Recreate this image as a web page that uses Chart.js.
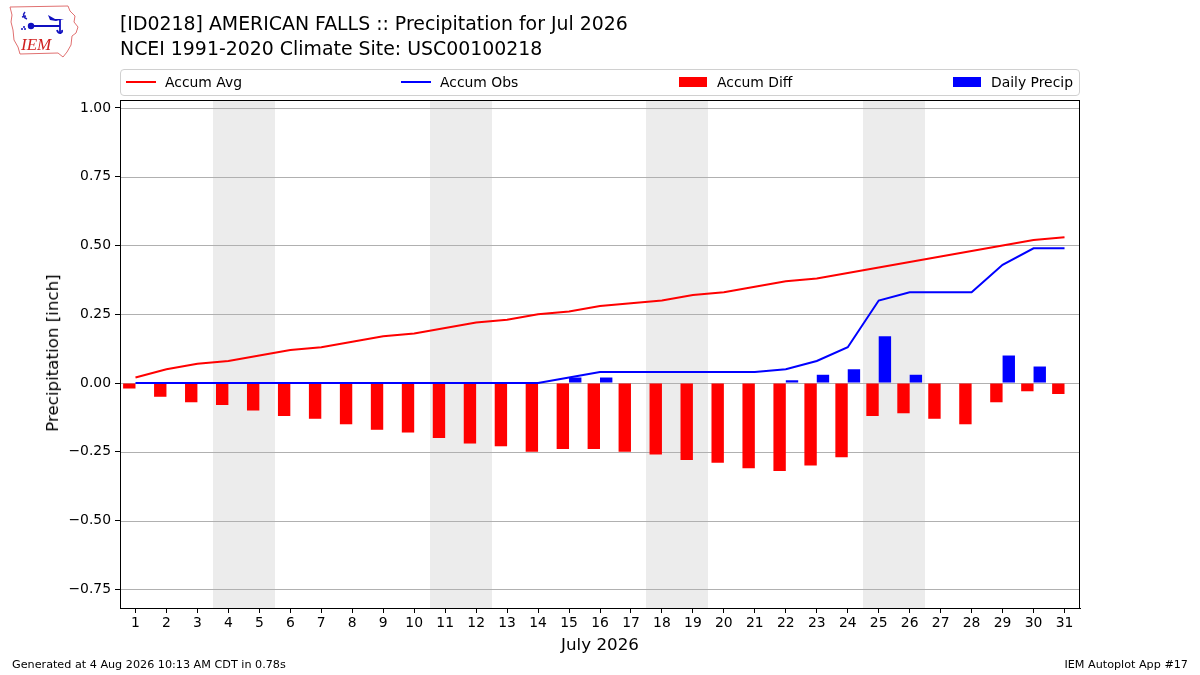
<!DOCTYPE html>
<html>
<head>
<meta charset="utf-8">
<script src="https://cdn.jsdelivr.net/npm/chart.js@4.4.1/dist/chart.umd.min.js"></script>
<style>
    html, body { margin: 0; padding: 0; background: #fff; }
    body { width: 1200px; height: 675px; position: relative; overflow: hidden; font-family: "DejaVu Sans", sans-serif; color: #000; }
    #chart { position: absolute; left: 0; top: 0; }
    .t { position: absolute; white-space: nowrap; }
    #legend { position: absolute; left: 120px; top: 69px; width: 958px; height: 25px; border: 1px solid #d0d0d0; border-radius: 4px; font-size: 13.9px; }
    .li { position: absolute; top: 0; height: 25px; line-height: 25px; }
    .sw-line { position: absolute; top: 11px; width: 30px; height: 2px; }
    .sw-bar { position: absolute; top: 7px; width: 28px; height: 10px; }
</style>
</head>
<body>
<canvas id="chart" width="1200" height="675"></canvas>

<svg class="t" style="left:0;top:0" width="90" height="62" viewBox="0 0 90 62">
    <path d="M10 7 L68 6 L70 11 L75 16 L74 22 L78 27 L76 33 L72 36 L71 45 L67 52 L63 57 L58 53 L20 54 L18 47 L14 40 L13 30 L11 22 L12 15 Z" fill="none" stroke="#e07070" stroke-width="1"/>
    <path d="M25 12 C22 15 24 18 27 19 M22 17 L26 16" stroke="#2020c0" stroke-width="1.6" fill="none"/>
    <path d="M31 26 L60 26 M60 20 L60 34 M57 30 C58 34 63 34 62 30" stroke="#1010c0" stroke-width="1.8" fill="none"/>
    <path d="M48 15 L55 19 L64 19 L56 21 L50 20 Z" fill="#1010c0"/>
    <circle cx="31" cy="26" r="3.2" fill="#1010c0"/>
    <circle cx="24" cy="27" r="1" fill="#1010c0"/>
    <circle cx="22" cy="29" r="1" fill="#1010c0"/>
    <circle cx="25" cy="29" r="1" fill="#1010c0"/>
    <text x="21" y="50" font-family="Liberation Serif, serif" font-style="italic" font-size="17" fill="#d02020">IEM</text>
</svg>

<div class="t" style="left:120px;top:12px;font-size:18.9px">[ID0218] AMERICAN FALLS :: Precipitation for Jul 2026</div>
<div class="t" style="left:120px;top:37px;font-size:18.9px">NCEI 1991-2020 Climate Site: USC00100218</div>

<div id="legend">
    <div class="li" style="left:5px"><span class="sw-line" style="background:#ff0000"></span><span style="margin-left:39px">Accum Avg</span></div>
    <div class="li" style="left:280px"><span class="sw-line" style="background:#0000ff"></span><span style="margin-left:39px">Accum Obs</span></div>
    <div class="li" style="left:558px"><span class="sw-bar" style="background:#ff0000"></span><span style="margin-left:38px">Accum Diff</span></div>
    <div class="li" style="left:832px"><span class="sw-bar" style="background:#0000ff"></span><span style="margin-left:38px">Daily Precip</span></div>
</div>

<div class="t" style="left:52px;top:353px;font-size:16.7px;transform:translate(-50%,-50%) rotate(-90deg)">Precipitation [inch]</div>
<div class="t" style="left:600px;top:634px;font-size:16.7px;transform:translateX(-50%)">July 2026</div>
<div class="t" style="left:12px;top:658px;font-size:11.2px">Generated at 4 Aug 2026 10:13 AM CDT in 0.78s</div>
<div class="t" style="right:12px;top:658px;font-size:11.2px">IEM Autoplot App #17</div>

<script>
// days of July 2026
const days = Array.from({ length: 31 }, (_, i) => String(i + 1))

// accumulated climatology (inch)
const accumAvg = [0.02, 0.05, 0.07, 0.08, 0.10, 0.12, 0.13, 0.15, 0.17, 0.18,
                  0.20, 0.22, 0.23, 0.25, 0.26, 0.28, 0.29, 0.30, 0.32, 0.33,
                  0.35, 0.37, 0.38, 0.40, 0.42, 0.44, 0.46, 0.48, 0.50, 0.52, 0.53]

// accumulated observed (inch)
const accumObs = [0, 0, 0, 0, 0, 0, 0, 0, 0, 0,
                  0, 0, 0, 0, 0.02, 0.04, 0.04, 0.04, 0.04, 0.04,
                  0.04, 0.05, 0.08, 0.13, 0.30, 0.33, 0.33, 0.33, 0.43, 0.49, 0.49]

// obs minus avg
const accumDiff = [-0.02, -0.05, -0.07, -0.08, -0.10, -0.12, -0.13, -0.15, -0.17, -0.18,
                   -0.20, -0.22, -0.23, -0.25, -0.24, -0.24, -0.25, -0.26, -0.28, -0.29,
                   -0.31, -0.32, -0.30, -0.27, -0.12, -0.11, -0.13, -0.15, -0.07, -0.03, -0.04]

// daily precipitation (inch)
const dailyPrecip = [0, 0, 0, 0, 0, 0, 0, 0, 0, 0,
                     0, 0, 0, 0, 0.02, 0.02, 0, 0, 0, 0,
                     0, 0.01, 0.03, 0.05, 0.17, 0.03, 0, 0, 0.10, 0.06, 0]

// weekends (first, last day) shaded in the plot
const weekends = [[4, 5], [11, 12], [18, 19], [25, 26]]

const yTicks = [-0.75, -0.5, -0.25, 0, 0.25, 0.5, 0.75, 1.0]

const weekendShade = {
    id: "weekendShade",
    beforeDatasetsDraw(chart) {
        const { ctx, chartArea, scales } = chart
        const x = scales.x
        const half = (x.getPixelForValue(1) - x.getPixelForValue(0)) / 2
        ctx.save()
        ctx.fillStyle = "#ececec"
        weekends.forEach(([a, b]) => {
            const x0 = Math.round(x.getPixelForValue(a - 1) - half)
            const x1 = Math.round(x.getPixelForValue(b - 1) + half)
            ctx.fillRect(x0, chartArea.top, x1 - x0, chartArea.bottom - chartArea.top)
        })
        // horizontal grid goes over the shading
        ctx.strokeStyle = "#b0b0b0"
        ctx.lineWidth = 1
        yTicks.forEach(v => {
            const y = Math.round(scales.y.getPixelForValue(v)) + 0.5
            ctx.beginPath()
            ctx.moveTo(chartArea.left, y)
            ctx.lineTo(chartArea.right, y)
            ctx.stroke()
        })
        ctx.restore()
    },
    afterDraw(chart) {
        const { ctx, chartArea } = chart
        ctx.save()
        ctx.strokeStyle = "#000"
        ctx.lineWidth = 1
        ctx.strokeRect(chartArea.left + 0.5, chartArea.top + 0.5,
            chartArea.right - chartArea.left - 1, chartArea.bottom - chartArea.top)
        ctx.restore()
    },
}

new Chart(document.getElementById("chart"), {
    data: {
        labels: days,
        datasets: [
            {
                type: "line", label: "Accum Avg", data: accumAvg,
                borderColor: "#ff0000", borderWidth: 2, pointRadius: 0, tension: 0, order: 0,
            },
            {
                type: "line", label: "Accum Obs", data: accumObs,
                borderColor: "#0000ff", borderWidth: 2, pointRadius: 0, tension: 0, order: 0,
            },
            {
                type: "bar", label: "Accum Diff", data: accumDiff,
                backgroundColor: "#ff0000", borderWidth: 0, order: 1,
                categoryPercentage: 0.8, barPercentage: 1.0,
            },
            {
                type: "bar", label: "Daily Precip", data: dailyPrecip,
                backgroundColor: "#0000ff", borderWidth: 0, order: 1,
                categoryPercentage: 0.8, barPercentage: 1.0,
            },
        ],
    },
    options: {
        responsive: false,
        animation: false,
        devicePixelRatio: 1,
        layout: { padding: { top: 100, right: 120, left: 0, bottom: 0 } },
        plugins: {
            legend: { display: false },
            title: { display: false },
            tooltip: { enabled: false },
        },
        scales: {
            x: {
                type: "category",
                offset: true,
                grid: { drawOnChartArea: false, tickLength: 5, tickColor: "#000", offset: false },
                border: { color: "#000" },
                ticks: { color: "#000", font: { family: "DejaVu Sans", size: 13.9 }, padding: 2, maxRotation: 0, autoSkip: false },
                afterFit: (s) => { s.height = 67 },
            },
            y: {
                type: "linear",
                min: -0.818,
                max: 1.029,
                grid: { drawOnChartArea: false, tickLength: 5, tickColor: "#000" },
                border: { color: "#000" },
                ticks: {
                    color: "#000",
                    font: { family: "DejaVu Sans", size: 13.9 },
                    padding: 4,
                    callback: (v) => v.toFixed(2).replace("-", "\u2212"),
                },
                afterBuildTicks: (s) => { s.ticks = yTicks.map(v => ({ value: v })) },
                afterFit: (s) => { s.width = 120 },
            },
        },
    },
    plugins: [weekendShade],
})
</script>
</body>
</html>
